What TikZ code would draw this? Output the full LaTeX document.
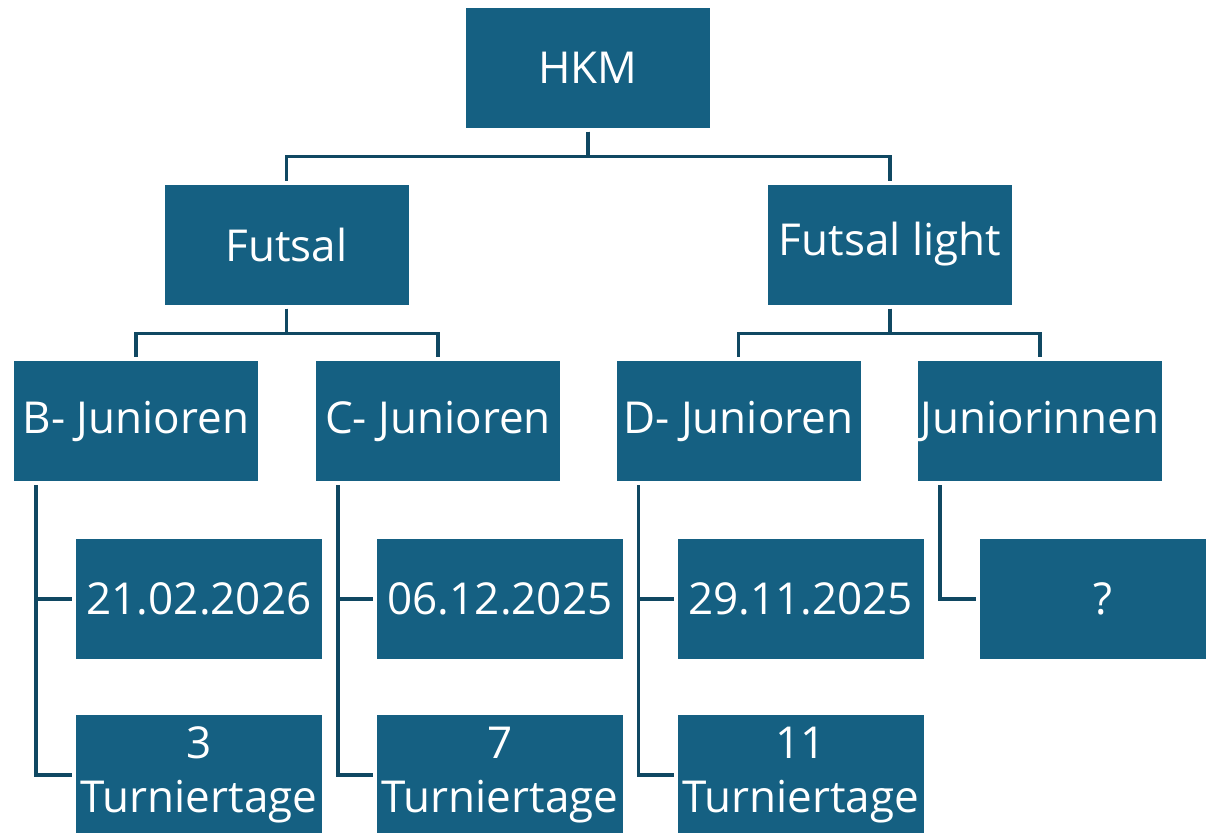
\documentclass[tikz,border=0pt]{standalone}
\usepackage{fontspec}
\setmainfont{Open Sans}
\usepackage{xcolor}
\usepackage{tikz}

\definecolor{boxblue}{HTML}{156082}
\definecolor{lineblue}{HTML}{104862}

\tikzset{
  box/.style={fill=boxblue, text=white, minimum width=183pt, minimum height=90pt,
    inner sep=0pt, outer sep=3pt, align=center,
    font=\fontsize{33}{40}\selectfont},
  leaf/.style={box, minimum width=184.5pt},
  conn/.style={draw=lineblue, line width=2.6pt}
}

\begin{document}
\begin{tikzpicture}[x=0.75pt, y=-0.75pt]
    \useasboundingbox (0,0) rectangle (1206,832);

    % Top
    \node[box] (hkm) at (588, 67.5) {HKM};

    % Level 2
    \node[box] (futsal) at (286.5, 244.5) {Futsal};
    \node[box] (light) at (890, 244.5) {Futsal light};

    % Level 3
    \node[box] (bjun) at (136, 421) {B- Junioren};
    \node[box] (cjun) at (438, 421) {C- Junioren};
    \node[box] (djun) at (738.5, 421) {D- Junioren};
    \node[box] (jinnen) at (1040, 421) {Juniorinnen};

    % Dates
    \node[leaf] (bdate) at (199, 599) {21.02.2026};
    \node[leaf] (cdate) at (500, 599) {06.12.2025};
    \node[leaf] (ddate) at (800.5, 599) {29.11.2025};
    \node[leaf] (jdate) at (1103, 599) {?};

    % Tournament days
    \node[leaf] (btage) at (199, 775) {3\\Turniertage};
    \node[leaf] (ctage) at (500, 775) {7\\Turniertage};
    \node[leaf] (dtage) at (800.5, 775) {11\\Turniertage};

    % Tree connectors
    \draw[conn] (hkm.south) -- ++(0,25) -| (futsal.north);
    \draw[conn] (hkm.south) -- ++(0,25) -| (light.north);
    \draw[conn] (futsal.south) -- ++(0,25) -| (bjun.north);
    \draw[conn] (futsal.south) -- ++(0,25) -| (cjun.north);
    \draw[conn] (light.south) -- ++(0,25) -| (djun.north);
    \draw[conn] (light.south) -- ++(0,25) -| (jinnen.north);

    % Side brackets
    \draw[conn] ([xshift=19.5pt]bjun.south west) |- (bdate.west);
    \draw[conn] ([xshift=19.5pt]bjun.south west) |- (btage.west);
    \draw[conn] ([xshift=19.5pt]cjun.south west) |- (cdate.west);
    \draw[conn] ([xshift=19.5pt]cjun.south west) |- (ctage.west);
    \draw[conn] ([xshift=19.5pt]djun.south west) |- (ddate.west);
    \draw[conn] ([xshift=19.5pt]djun.south west) |- (dtage.west);
    \draw[conn] ([xshift=19.5pt]jinnen.south west) |- (jdate.west);
  \end{tikzpicture}
\end{document}
